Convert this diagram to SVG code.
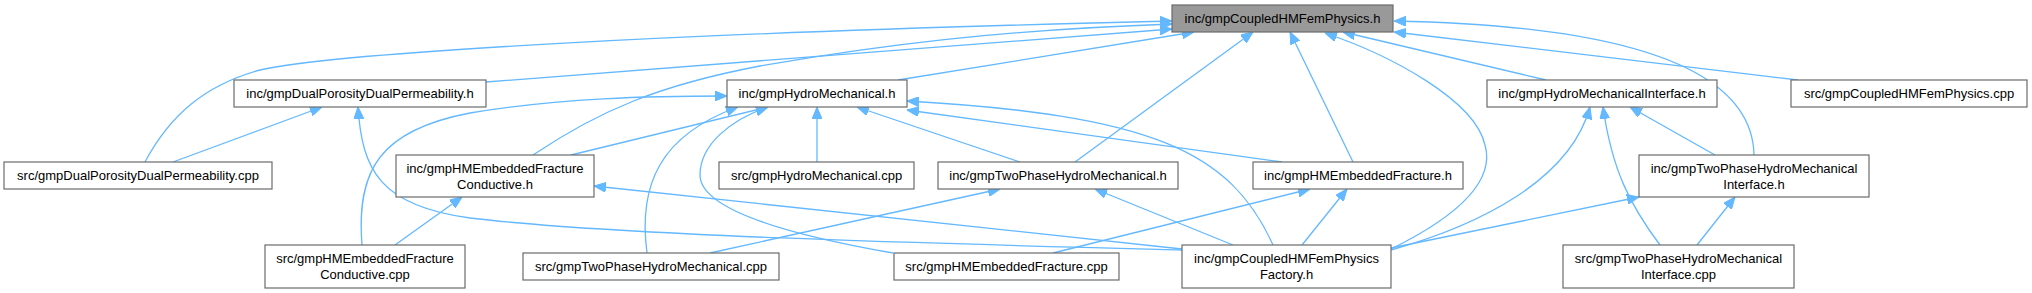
<svg xmlns="http://www.w3.org/2000/svg" width="2032" height="293" viewBox="0 0 2032 293">
<style>
.n rect{fill:#ffffff;stroke:#6b6b6b;stroke-width:1.2}
.n.root rect{fill:#999999}
.n text{font-family:"Liberation Sans",Arial,sans-serif;font-size:13px;fill:#000000;text-anchor:middle}
.e path{fill:none;stroke:#63b8ff;stroke-width:1.3;marker-end:url(#ah)}
</style>
<defs>
<marker id="ah" markerWidth="12" markerHeight="10" refX="12" refY="5" orient="auto" markerUnits="userSpaceOnUse">
<path d="M0,0 L12,5 L0,10 z" fill="#63b8ff" stroke="#63b8ff" stroke-width="1"/>
</marker>
</defs>
<rect x="0" y="0" width="2032" height="293" fill="#ffffff"/>
<g id="connectors" class="e">
<path d="M145,162 C170,115 205,85 260,70 C340,52 700,32 1172,21"/>
<path d="M486,82 L1172,29"/>
<path d="M533,155 C600,110 660,85 760,66 C880,45 1000,30 1172,24"/>
<path d="M898,80 L1194,32"/>
<path d="M1075,162 L1253,32"/>
<path d="M1353,162 L1290,32"/>
<path d="M1391,249 C1460,215 1495,180 1485,145 C1475,100 1390,55 1325,33"/>
<path d="M1546,80 L1343,32"/>
<path d="M1754,155 C1752,60 1600,25 1394,21"/>
<path d="M1798,80 L1394,32"/>
<path d="M173,162 L322,107"/>
<path d="M1182,250 C950,244 620,236 470,218 C380,206 362,170 358,107"/>
<path d="M395,245 L462,197"/>
<path d="M1182,249 L594,186"/>
<path d="M571,155 L768,107"/>
<path d="M362,245 C356,170 380,130 470,113 C560,98 650,96 727,96"/>
<path d="M647,253 C638,185 660,135 738,107"/>
<path d="M893,253 C790,235 700,210 700,175 C700,145 730,120 768,107"/>
<path d="M817,162 L817,107"/>
<path d="M1020,162 L857,107"/>
<path d="M1282,162 L907,110"/>
<path d="M1273,245 C1230,150 1150,115 907,101"/>
<path d="M710,253 L1000,189"/>
<path d="M1233,245 L1095,189"/>
<path d="M1053,253 L1310,189"/>
<path d="M1302,245 L1347,189"/>
<path d="M1391,250 C1480,225 1570,180 1590,107"/>
<path d="M1715,155 L1630,107"/>
<path d="M1660,245 C1630,205 1612,170 1603,107"/>
<path d="M1391,248 L1639,197"/>
<path d="M1697,245 L1735,197"/>
</g>
<g id="node1" class="n root"><rect x="1172" y="5" width="221" height="27"/><text x="1282.5" y="23">inc/gmpCoupledHMFemPhysics.h</text></g>
<g id="node2" class="n"><rect x="234" y="80" width="252" height="27"/><text x="360" y="98">inc/gmpDualPorosityDualPermeability.h</text></g>
<g id="node3" class="n"><rect x="4" y="162" width="268" height="27"/><text x="138" y="180">src/gmpDualPorosityDualPermeability.cpp</text></g>
<g id="node4" class="n"><rect x="396" y="155" width="198" height="42"/><text x="495" y="172.5">inc/gmpHMEmbeddedFracture</text><text x="495" y="188.5">Conductive.h</text></g>
<g id="node5" class="n"><rect x="265" y="245" width="200" height="43"/><text x="365" y="263">src/gmpHMEmbeddedFracture</text><text x="365" y="279">Conductive.cpp</text></g>
<g id="node6" class="n"><rect x="1182" y="245" width="209" height="43"/><text x="1286.5" y="263">inc/gmpCoupledHMFemPhysics</text><text x="1286.5" y="279">Factory.h</text></g>
<g id="node7" class="n"><rect x="727" y="80" width="180" height="27"/><text x="817" y="98">inc/gmpHydroMechanical.h</text></g>
<g id="node8" class="n"><rect x="719" y="162" width="195" height="27"/><text x="816.5" y="180">src/gmpHydroMechanical.cpp</text></g>
<g id="node9" class="n"><rect x="938" y="162" width="240" height="27"/><text x="1058" y="180">inc/gmpTwoPhaseHydroMechanical.h</text></g>
<g id="node10" class="n"><rect x="523" y="253" width="256" height="27"/><text x="651" y="271">src/gmpTwoPhaseHydroMechanical.cpp</text></g>
<g id="node11" class="n"><rect x="1253" y="162" width="210" height="27"/><text x="1358" y="180">inc/gmpHMEmbeddedFracture.h</text></g>
<g id="node12" class="n"><rect x="894" y="253" width="225" height="27"/><text x="1006.5" y="271">src/gmpHMEmbeddedFracture.cpp</text></g>
<g id="node13" class="n"><rect x="1487" y="80" width="230" height="27"/><text x="1602" y="98">inc/gmpHydroMechanicalInterface.h</text></g>
<g id="node14" class="n"><rect x="1639" y="155" width="230" height="42"/><text x="1754" y="172.5">inc/gmpTwoPhaseHydroMechanical</text><text x="1754" y="188.5">Interface.h</text></g>
<g id="node15" class="n"><rect x="1563" y="245" width="231" height="43"/><text x="1678.5" y="263">src/gmpTwoPhaseHydroMechanical</text><text x="1678.5" y="279">Interface.cpp</text></g>
<g id="node16" class="n"><rect x="1791" y="80" width="236" height="27"/><text x="1909" y="98">src/gmpCoupledHMFemPhysics.cpp</text></g>
</svg>
